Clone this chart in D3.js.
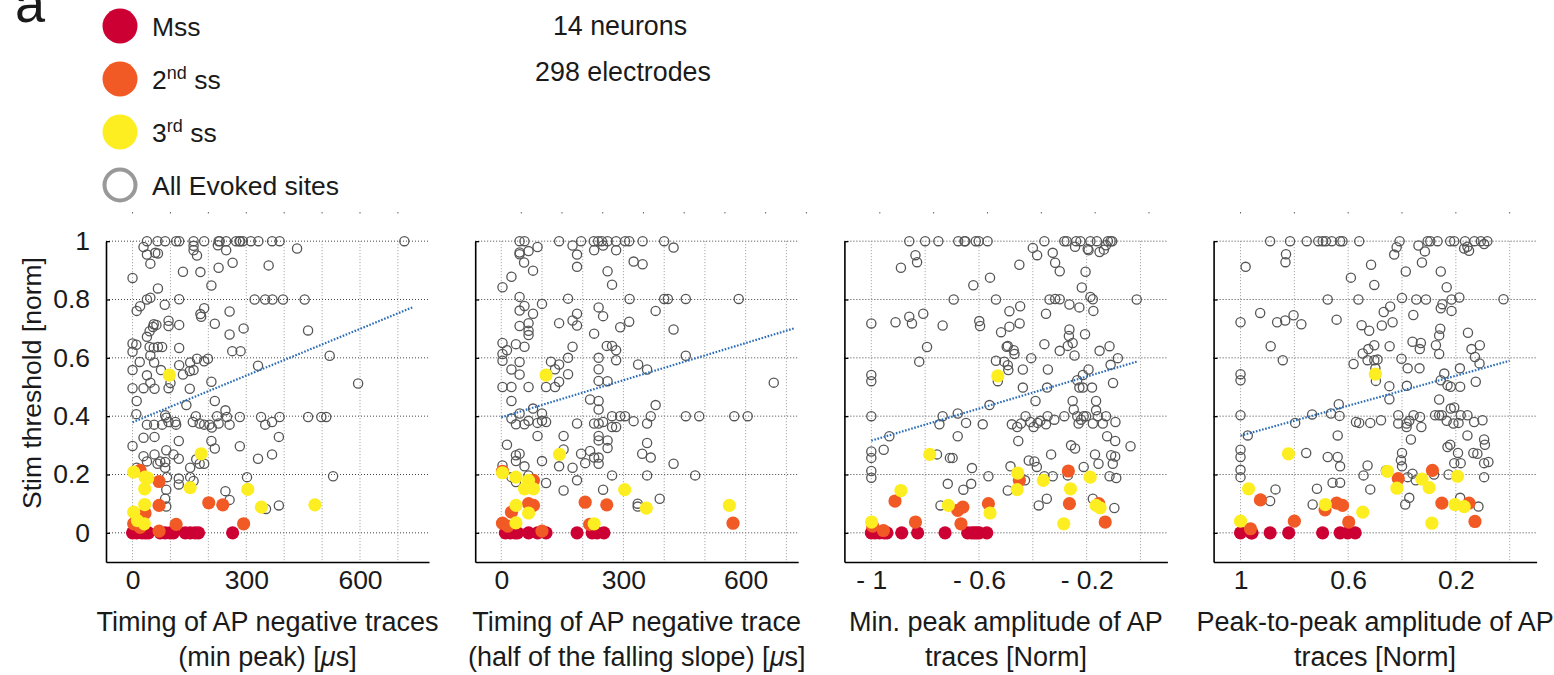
<!DOCTYPE html>
<html>
<head>
<meta charset="utf-8">
<script src="https://cdn.jsdelivr.net/npm/d3@7"></script>
<style>
  body { margin: 0; background: #fff; }
  svg text { font-family: "Liberation Sans", Arial, sans-serif; fill: #1a1a1a; }
</style>
</head>
<body>
<svg id="chart" width="1554" height="675"></svg>
<script>
// ---- data: [x, stim threshold] ----

// panel 1: timing of AP negative traces (min peak) [us]
const p1Evoked = [[38,1],[66,1],[86,1],[115,1],[123,1],[161,1],[189,1],[227,1],[230,1],[247,1],[273,1],[282,1],[284,1],[291,1],[312,1],[332,1],[368,1],[388,1],[717,1],
  [29,0.98],[161,0.984],[161,0.969],[38,0.954],[60,0.96],[67,0.958],[170,0.951],[225,0.986],[247,0.969],[434,0.975],[47,0.923],[264,0.926],[359,0.917],[133,0.895],[179,0.894],[227,0.909],[0,0.874],[208,0.848],[67,0.838],[38,0.8],[47,0.806],[123,0.801],[322,0.8],[350,0.8],[369,0.8],[397,0.8],[454,0.8],[20,0.777],[11,0.761],[85,0.782],[189,0.77],[179,0.75],[181,0.741],[256,0.759],[56,0.715],[63,0.713],[95,0.727],[95,0.709],[123,0.713],[217,0.717],[293,0.701],[463,0.694],[54,0.706],[45,0.691],[38,0.672],[256,0.68],[0,0.649],[10,0.645],[45,0.637],[56,0.635],[67,0.637],[78,0.637],[123,0.634],[263,0.623],[285,0.623],[0,0.621],[47,0.608],[520,0.607],[19,0.586],[57,0.584],[170,0.597],[189,0.588],[199,0.597],[0,0.558],[75,0.558],[123,0.575],[152,0.584],[151,0.555],[161,0.558],[331,0.573],[38,0.54],[47,0.515],[100,0.514],[133,0.543],[208,0.518],[595,0.512],[0,0.496],[29,0.496],[58,0.494],[95,0.496],[151,0.494],
  [11,0.452],[217,0.452],[142,0.438],[10,0.407],[86,0.403],[89,0.395],[167,0.4],[223,0.4],[249,0.397],[283,0.397],[339,0.397],[388,0.397],[463,0.397],[498,0.397],[511,0.397],[38,0.371],[57,0.371],[78,0.371],[95,0.38],[113,0.38],[115,0.371],[159,0.38],[177,0.375],[189,0.371],[203,0.371],[209,0.361],[227,0.375],[256,0.371],[350,0.371],[368,0.38],[245,0.42],[0,0.298],[122,0.315],[208,0.315],[217,0.289],[283,0.297],[386,0.329],[29,0.326],[58,0.329],[331,0.254],[368,0.269],[29,0.263],[58,0.269],[108,0.269],[122,0.254],[89,0.283],[38,0.245],[66,0.237],[73,0.245],[86,0.223],[86,0.243],[152,0.223],[168,0.252],[177,0.237],[189,0.237],[11,0.223],[302,0.191],[529,0.194],[91,0.191],[122,0.186],[152,0.191],[122,0.166],[161,0.178],[245,0.143],[89,0.148],[256,0.113],[86,0.117],[352,0.082],[386,0.094],[89,0.09]];
const p1Mss = [[0,0],[11,0],[25,0],[34,0],[42,0],[73,0],[86,0],[99,0],[108,0],[139,0],[152,0],[165,0],[174,0],[264,0]];
const p1Ss2 = [[20,0.214],[70,0.176],[70,0.094],[33,0.068],[3,0.031],[20,0.019],[70,0.006],[115,0.029],[201,0.103],[238,0.096],[293,0.031],[11,0.048]];
const p1Ss3 = [[3,0.208],[33,0.191],[40,0.188],[32,0.151],[32,0.097],[3,0.071],[13,0.042],[31,0.031],[152,0.155],[181,0.271],[304,0.149],[340,0.088],[481,0.096],[97,0.541]];
const p1Fit = [[0,0.379],[740,0.774]];

// panel 2: timing of AP negative trace (half of the falling slope) [us]
const p2Evoked = [[45,1],[57,1],[142,1],[196,1],[227,1],[238,1],[247,1],[261,1],[282,1],[304,1],[314,1],[347,1],[400,1],
  [175,0.985],[228,0.969],[250,0.985],[282,0.969],[89,0.98],[45,0.961],[67,0.966],[45,0.955],[186,0.954],[423,0.978],[56,0.927],[325,0.93],[347,0.921],[186,0.912],[78,0.899],[261,0.897],[25,0.878],[272,0.851],[3,0.842],[45,0.809],[164,0.803],[315,0.802],[400,0.802],[409,0.802],[453,0.802],[583,0.802],[57,0.778],[100,0.785],[45,0.762],[78,0.751],[239,0.773],[250,0.743],[379,0.761],[186,0.751],[175,0.728],[142,0.719],[186,0.711],[67,0.719],[45,0.709],[314,0.724],[292,0.705],[423,0.697],[67,0.693],[67,0.678],[228,0.683],[3,0.651],[14,0.626],[3,0.613],[3,0.59],[36,0.647],[57,0.638],[175,0.638],[259,0.641],[272,0.641],[282,0.626],[164,0.6],[239,0.6],[282,0.592],[453,0.607],[336,0.577],[358,0.56],[45,0.586],[25,0.56],[45,0.543],[122,0.587],[142,0.577],[132,0.561],[164,0.544],[239,0.561],[239,0.521],[261,0.52],[3,0.5],[25,0.5],[67,0.5],[110,0.5],[132,0.5],[142,0.518],[669,0.515],
  [25,0.452],[78,0.426],[218,0.457],[239,0.452],[239,0.423],[379,0.438],[25,0.392],[45,0.409],[36,0.372],[57,0.372],[67,0.384],[89,0.377],[100,0.409],[100,0.384],[110,0.38],[186,0.375],[228,0.375],[239,0.375],[250,0.38],[272,0.4],[272,0.363],[282,0.363],[292,0.4],[304,0.4],[325,0.383],[358,0.375],[367,0.4],[453,0.4],[486,0.4],[572,0.4],[605,0.4],[89,0.332],[153,0.332],[153,0.286],[239,0.332],[239,0.317],[261,0.317],[261,0.291],[14,0.302],[36,0.266],[45,0.271],[36,0.246],[57,0.228],[100,0.246],[142,0.228],[175,0.223],[186,0.18],[196,0.271],[206,0.239],[218,0.281],[228,0.258],[239,0.258],[239,0.237],[272,0.197],[346,0.271],[367,0.258],[358,0.308],[358,0.197],[423,0.237],[476,0.197],[3,0.231],[25,0.191],[67,0.197],[110,0.171],[153,0.145],[250,0.148],[335,0.1],[335,0.09],[389,0.117],[36,0.174]];
const p2Mss = [[10,0],[22,0],[34,0],[40,0],[67,0],[89,0],[110,0],[186,0],[223,0],[235,0],[252,0]];
const p2Ss2 = [[3,0.211],[79,0.18],[67,0.1],[79,0.094],[25,0.071],[3,0.033],[16,0.023],[100,0.006],[206,0.105],[259,0.096],[217,0.029],[569,0.033]];
const p2Ss3 = [[3,0.206],[36,0.191],[67,0.18],[57,0.151],[79,0.151],[36,0.094],[67,0.068],[36,0.034],[143,0.269],[303,0.148],[356,0.085],[560,0.094],[228,0.031],[110,0.541]];
const p2Fit = [[0,0.396],[721,0.702]];

// panel 3: min. peak amplitude of AP traces [norm]
const p3Evoked = [[-0.859,1],[-0.8,1],[-0.751,1],[-0.677,1],[-0.654,1],[-0.651,1],[-0.612,1],[-0.601,1],[-0.568,1],[-0.357,1],[-0.283,1],[-0.274,1],[-0.239,1],[-0.223,1],[-0.186,1],[-0.162,1],[-0.121,1],[-0.111,1],[-0.105,1],
  [-0.4,0.977],[-0.384,0.952],[-0.326,0.96],[-0.317,0.926],[-0.3,0.897],[-0.243,0.981],[-0.196,0.973],[-0.193,0.969],[-0.152,0.963],[-0.136,0.971],[-0.128,0.986],[-0.836,0.952],[-0.83,0.928],[-0.89,0.909],[-0.45,0.919],[-0.559,0.875],[-0.621,0.849],[-0.204,0.895],[-0.218,0.841],[-0.694,0.8],[-0.537,0.8],[-0.338,0.8],[-0.317,0.802],[-0.3,0.801],[-0.186,0.809],[-0.177,0.801],[-0.014,0.8],[-0.264,0.783],[-0.227,0.773],[-0.175,0.761],[-0.487,0.76],[-0.447,0.777],[-0.351,0.751],[-1,0.718],[-0.91,0.722],[-0.859,0.741],[-0.849,0.718],[-0.807,0.751],[-0.735,0.711],[-0.599,0.726],[-0.596,0.709],[-0.487,0.707],[-0.449,0.718],[-0.518,0.688],[-0.264,0.697],[-0.266,0.675],[-0.206,0.681],[-0.793,0.637],[-0.497,0.638],[-0.493,0.641],[-0.471,0.626],[-0.468,0.613],[-0.357,0.647],[-0.3,0.624],[-0.27,0.641],[-0.252,0.651],[-0.245,0.608],[-0.152,0.624],[-0.115,0.64],[-0.084,0.599],[-0.406,0.599],[-0.822,0.587],[-0.537,0.59],[-0.506,0.587],[-0.493,0.575],[-0.491,0.558],[-0.437,0.56],[-0.344,0.56],[-0.193,0.56],[-0.111,0.576],[-1,0.541],[-1,0.52],[-0.53,0.52],[-0.437,0.498],[-0.347,0.498],[-0.235,0.523],[-0.214,0.541],[-0.227,0.498],[-0.214,0.498],[-0.18,0.498],[-0.102,0.514],
  [-0.39,0.452],[-0.252,0.452],[-0.248,0.423],[-0.165,0.452],[-0.165,0.42],[-0.561,0.438],[-0.679,0.409],[-0.735,0.4],[-0.747,0.372],[-0.648,0.377],[-0.586,0.372],[-1,0.4],[-0.478,0.372],[-0.458,0.363],[-0.444,0.375],[-0.427,0.4],[-0.409,0.38],[-0.397,0.363],[-0.382,0.377],[-0.372,0.384],[-0.345,0.4],[-0.351,0.372],[-0.32,0.388],[-0.283,0.4],[-0.235,0.4],[-0.221,0.388],[-0.211,0.4],[-0.202,0.4],[-0.23,0.375],[-0.177,0.375],[-0.159,0.4],[-0.14,0.375],[-0.128,0.4],[-0.093,0.38],[-0.933,0.331],[-0.679,0.331],[-0.454,0.315],[-0.258,0.3],[-0.243,0.289],[-0.124,0.331],[-0.094,0.315],[-0.037,0.297],[-1,0.279],[-1,0.257],[-0.954,0.285],[-0.756,0.269],[-0.708,0.257],[-0.698,0.257],[-0.332,0.269],[-0.169,0.269],[-0.109,0.266],[-0.156,0.237],[-0.103,0.237],[-0.094,0.262],[-0.415,0.248],[-0.394,0.245],[-0.385,0.226],[-0.211,0.226],[-0.626,0.222],[-1,0.212],[-1,0.189],[-0.483,0.228],[-0.565,0.194],[-0.357,0.194],[-0.326,0.194],[-0.27,0.197],[-0.115,0.194],[-0.09,0.188],[-0.716,0.168],[-0.629,0.168],[-0.658,0.148],[-0.493,0.145],[-0.429,0.18],[-0.743,0.094],[-0.378,0.094],[-0.348,0.117],[-0.177,0.117],[-0.097,0.085]];
const p3Mss = [[-1,0],[-0.986,0],[-0.97,0],[-0.952,0],[-0.942,0],[-0.887,0],[-0.828,0],[-0.726,0],[-0.642,0],[-0.627,0],[-0.617,0],[-0.608,0],[-0.599,0],[-0.571,0]];
const p3Ss2 = [[-0.912,0.109],[-0.836,0.037],[-0.955,0.008],[-0.995,0.023],[-0.679,0.077],[-0.66,0.088],[-0.667,0.031],[-0.565,0.1],[-0.45,0.18],[-0.268,0.212],[-0.264,0.1],[-0.155,0.1],[-0.131,0.037]];
const p3Ss3 = [[-0.999,0.037],[-0.89,0.145],[-0.783,0.269],[-0.714,0.094],[-0.559,0.068],[-0.456,0.205],[-0.458,0.148],[-0.361,0.18],[-0.26,0.151],[-0.285,0.031],[-0.187,0.191],[-0.165,0.094],[-0.15,0.086],[-0.53,0.538]];
const p3Fit = [[-1,0.316],[-0.01,0.588]];

// panel 4: peak-to-peak amplitude of AP traces [norm]
const p4Evoked = [[0.89,1],[0.816,1],[0.754,1],[0.711,1],[0.695,1],[0.683,1],[0.661,1],[0.63,1],[0.621,1],[0.559,1],[0.409,1],[0.305,1],[0.295,1],[0.268,1],[0.221,1],[0.206,1],[0.166,1],[0.131,1],[0.107,1],[0.083,1],
  [0.42,0.979],[0.429,0.954],[0.339,0.985],[0.315,0.965],[0.326,0.927],[0.169,0.975],[0.151,0.967],[0.157,0.981],[0.095,0.99],[0.831,0.955],[0.833,0.928],[0.981,0.912],[0.515,0.919],[0.386,0.896],[0.256,0.896],[0.59,0.875],[0.503,0.85],[0.234,0.842],[0.676,0.8],[0.562,0.8],[0.4,0.805],[0.347,0.8],[0.311,0.8],[0.216,0.8],[0.187,0.807],[0.023,0.801],[0.25,0.784],[0.256,0.77],[0.216,0.761],[0.444,0.776],[0.468,0.757],[0.358,0.747],[1,0.722],[0.927,0.754],[0.864,0.722],[0.834,0.728],[0.803,0.746],[0.774,0.715],[0.643,0.731],[0.55,0.712],[0.522,0.693],[0.475,0.711],[0.435,0.722],[0.258,0.7],[0.262,0.677],[0.155,0.686],[0.888,0.64],[0.843,0.592],[0.546,0.615],[0.525,0.63],[0.503,0.643],[0.528,0.592],[0.503,0.592],[0.491,0.594],[0.446,0.64],[0.402,0.597],[0.361,0.655],[0.33,0.651],[0.334,0.63],[0.274,0.643],[0.262,0.613],[0.142,0.63],[0.129,0.603],[0.111,0.643],[0.112,0.581],[0.58,0.579],[1,0.544],[1,0.523],[0.499,0.564],[0.497,0.521],[0.379,0.564],[0.335,0.564],[0.243,0.546],[0.256,0.523],[0.231,0.506],[0.219,0.501],[0.185,0.564],[0.184,0.501],[0.126,0.518],[0.447,0.503],[0.382,0.504],
  [0.447,0.458],[0.262,0.457],[0.219,0.426],[0.206,0.43],[0.635,0.441],[0.734,0.406],[0.664,0.409],[0.632,0.401],[1,0.403],[0.973,0.334],[0.797,0.377],[0.639,0.334],[0.571,0.38],[0.559,0.377],[0.518,0.377],[0.478,0.386],[0.414,0.403],[0.414,0.375],[0.383,0.375],[0.383,0.363],[0.373,0.384],[0.357,0.403],[0.333,0.397],[0.328,0.363],[0.277,0.403],[0.262,0.403],[0.252,0.403],[0.234,0.384],[0.209,0.375],[0.19,0.377],[0.182,0.403],[0.157,0.403],[0.132,0.38],[0.101,0.386],[0.157,0.334],[0.095,0.32],[0.092,0.302],[0.231,0.294],[0.221,0.302],[0.192,0.274],[0.367,0.32],[1,0.285],[1,0.26],[1,0.216],[1,0.191],[0.756,0.274],[0.676,0.26],[0.639,0.26],[0.63,0.228],[0.528,0.231],[0.543,0.197],[0.4,0.274],[0.404,0.249],[0.4,0.228],[0.379,0.191],[0.361,0.203],[0.349,0.18],[0.281,0.2],[0.206,0.239],[0.182,0.239],[0.227,0.2],[0.135,0.274],[0.12,0.271],[0.095,0.239],[0.079,0.243],[0.095,0.191],[0.87,0.149],[0.89,0.109],[0.716,0.151],[0.732,0.097],[0.658,0.172],[0.63,0.172],[0.518,0.149],[0.373,0.12],[0.388,0.097],[0.184,0.12],[0.116,0.09],[0.46,0.214]];
const p4Mss = [[1,0],[0.96,0],[0.957,0],[0.89,0],[0.821,0],[0.695,0],[0.63,0],[0.602,0],[0.574,0]];
const p4Ss2 = [[0.963,0.014],[0.926,0.113],[0.8,0.04],[0.686,0.079],[0.643,0.102],[0.621,0.094],[0.598,0.037],[0.414,0.186],[0.287,0.214],[0.252,0.102],[0.151,0.102],[0.129,0.039]];
const p4Ss3 = [[1,0.04],[0.97,0.151],[0.822,0.271],[0.685,0.097],[0.546,0.071],[0.454,0.211],[0.419,0.153],[0.326,0.184],[0.299,0.155],[0.289,0.033],[0.194,0.194],[0.203,0.097],[0.169,0.09],[0.499,0.544]];
const p4Fit = [[1,0.333],[0,0.59]];

// axis ticks
const yTicks = [0, 0.2, 0.4, 0.6, 0.8, 1];
const timeTicks = [0, 300, 600];
const timeGrid = [0, 100, 200, 300, 400, 500, 600, 700];
const minAmpTicks = [-1, -0.6, -0.2];
const minAmpGrid = [-1, -0.8, -0.6, -0.4, -0.2, 0];
const p2pTicks = [1, 0.6, 0.2];
const p2pGrid = [1, 0.8, 0.6, 0.4, 0.2, 0];

const legendLabels = ['Mss', '2nd ss', '3rd ss', 'All Evoked sites'];

// colours
const colMss = '#cc0033', colSs2 = '#f15a24', colSs3 = '#fcee21', colEvoked = '#555555';

let svg = d3.select('#chart');
let panelW = 323, panelTop = 212, panelBottom = 562;
let panelLeft = [106, 475.2, 844.4, 1213.6];
let fontMain = '"Liberation Sans", Arial, sans-serif';

let y = d3.scaleLinear().domain([-0.1, 1.1]).range([panelBottom, panelTop]);

let panels = [
  {domain: [-70, 782], ticks: timeTicks, grid: timeGrid, fmt: d => d, topShift: 0,
   evoked: p1Evoked, mss: p1Mss, ss2: p1Ss2, ss3: p1Ss3, fit: p1Fit,
   title: ['Timing of AP negative traces', '(min peak) [', 'μ', 's]']},
  {domain: [-64, 729], ticks: timeTicks, grid: timeGrid, fmt: d => d, topShift: 20,
   evoked: p2Evoked, mss: p2Mss, ss2: p2Ss2, ss3: p2Ss3, fit: p2Fit,
   title: ['Timing of AP negative trace', '(half of the falling slope) [', 'μ', 's]']},
  {domain: [-1.1, 0.1], ticks: minAmpTicks, grid: minAmpGrid, fmt: d => '- ' + Math.abs(d), topShift: 8.5,
   evoked: p3Evoked, mss: p3Mss, ss2: p3Ss2, ss3: p3Ss3, fit: p3Fit,
   title: ['Min. peak amplitude of AP', 'traces [Norm]']},
  {domain: [1.1, -0.1], ticks: p2pTicks, grid: p2pGrid, fmt: d => d, topShift: 0,
   evoked: p4Evoked, mss: p4Mss, ss2: p4Ss2, ss3: p4Ss3, fit: p4Fit,
   title: ['Peak-to-peak amplitude of AP', 'traces [Norm]']}
];

function drawPanel(i, p) {
  let x = d3.scaleLinear().domain(p.domain).range([panelLeft[i], panelLeft[i] + panelW]);
  let g = svg.append('g');

  // horizontal grid
  g.selectAll('.hgrid').data(yTicks).enter().append('line')
    .attr('x1', x.range()[0]).attr('x2', x.range()[1])
    .attr('y1', d => y(d)).attr('y2', d => y(d))
    .attr('stroke', '#444').attr('stroke-width', 1).attr('stroke-dasharray', '1,2');

  // vertical grid
  g.selectAll('.vgrid').data(p.grid).enter().append('line')
    .attr('x1', d => x(d)).attr('x2', d => x(d))
    .attr('y1', y(1)).attr('y2', panelBottom)
    .attr('stroke', '#999').attr('stroke-width', 1).attr('stroke-dasharray', '1,2');

  // little top ticks left over from the plot box
  g.selectAll('.ttick').data(p.grid).enter().append('line')
    .attr('x1', d => x(d) + p.topShift).attr('x2', d => x(d) + p.topShift)
    .attr('y1', panelTop).attr('y2', panelTop + 1.5)
    .attr('stroke', '#666').attr('stroke-width', 1);

  // all evoked sites
  g.selectAll('.ev').data(p.evoked).enter().append('circle')
    .attr('cx', d => x(d[0])).attr('cy', d => y(d[1])).attr('r', 4.6)
    .attr('fill', 'none').attr('stroke', colEvoked).attr('stroke-width', 1.3);

  // fit line
  g.append('path')
    .attr('d', d3.line().x(d => x(d[0])).y(d => y(d[1]))(p.fit))
    .attr('stroke', '#2b6cb8').attr('stroke-width', 2.2)
    .attr('stroke-dasharray', '1.6,1.6').attr('fill', 'none');

  // somatic sites
  [[p.mss, colMss], [p.ss2, colSs2], [p.ss3, colSs3]].forEach(s => {
    g.selectAll(null).data(s[0]).enter().append('circle')
      .attr('cx', d => x(d[0])).attr('cy', d => y(d[1])).attr('r', 6.6)
      .attr('fill', s[1]);
  });

  // x axis
  let xAxis = g.append('g').attr('transform', 'translate(0,' + panelBottom + ')')
    .call(d3.axisBottom(x).tickValues(p.ticks).tickFormat(p.fmt).tickSize(0).tickPadding(8));
  xAxis.select('.domain').attr('stroke', '#000').attr('stroke-width', 1.6);
  xAxis.selectAll('text').attr('font-size', 26.5).attr('font-family', fontMain).attr('fill', '#1a1a1a');

  // y axis
  let yAx = y.copy().domain([-0.1, 1]).range([y(-0.1), y(1)]);
  let yAxis = g.append('g').attr('transform', 'translate(' + x.range()[0] + ',0)')
    .call(d3.axisLeft(yAx).tickValues(yTicks).tickSizeInner(-4).tickSizeOuter(0).tickPadding(16)
      .tickFormat(i === 0 ? (d => d) : ''));
  yAxis.select('.domain').attr('stroke', '#000').attr('stroke-width', 1.6);
  yAxis.selectAll('line').attr('stroke', '#000').attr('stroke-width', 1.3);
  yAxis.selectAll('text').attr('font-size', 26.5).attr('font-family', fontMain).attr('fill', '#1a1a1a');

  // axis title, two lines
  let cx = (x.range()[0] + x.range()[1]) / 2;
  g.append('text').attr('x', cx).attr('y', 631).attr('text-anchor', 'middle')
    .attr('font-size', 27).text(p.title[0]);
  let t2 = g.append('text').attr('x', cx).attr('y', 666).attr('text-anchor', 'middle')
    .attr('font-size', 27);
  t2.append('tspan').text(p.title[1]);
  if (p.title.length > 2) {
    t2.append('tspan').attr('font-style', 'italic').text(p.title[2]);
    t2.append('tspan').text(p.title[3]);
  }
}

panels.forEach((p, i) => drawPanel(i, p));

// y label
svg.append('text')
  .attr('transform', 'translate(41,383) rotate(-90)')
  .attr('text-anchor', 'middle').attr('font-size', 26.5)
  .text('Stim threshold [norm]');

// panel letter
svg.append('text').attr('x', 15).attr('y', 22)
  .attr('font-family', '"Liberation Serif", "Times New Roman", serif')
  .attr('font-size', 54).text('a');

// legend
let legendY = d3.scalePoint().domain(legendLabels).range([26, 185]);
let legendCol = [colMss, colSs2, colSs3, 'none'];
legendLabels.forEach((lab, i) => {
  let cy = legendY(lab);
  if (i < 3) {
    svg.append('circle').attr('cx', 120).attr('cy', cy).attr('r', 17.5).attr('fill', legendCol[i]);
  } else {
    svg.append('circle').attr('cx', 120).attr('cy', cy).attr('r', 15.5)
      .attr('fill', 'none').attr('stroke', '#999').attr('stroke-width', 4);
  }
  let t = svg.append('text').attr('x', 152).attr('y', cy + 9.5).attr('font-size', 26.5);
  if (i === 1 || i === 2) {
    t.append('tspan').text(lab.charAt(0));
    t.append('tspan').attr('font-size', 18).attr('dy', -10).text(lab.slice(1, 3));
    t.append('tspan').attr('dy', 10).text(lab.slice(3));
  } else {
    t.text(lab);
  }
});

// counts
svg.append('text').attr('x', 620).attr('y', 35).attr('text-anchor', 'middle').attr('font-size', 26.8).text('14 neurons');
svg.append('text').attr('x', 623).attr('y', 81).attr('text-anchor', 'middle').attr('font-size', 26.8).text('298 electrodes');
</script>
</body>
</html>
